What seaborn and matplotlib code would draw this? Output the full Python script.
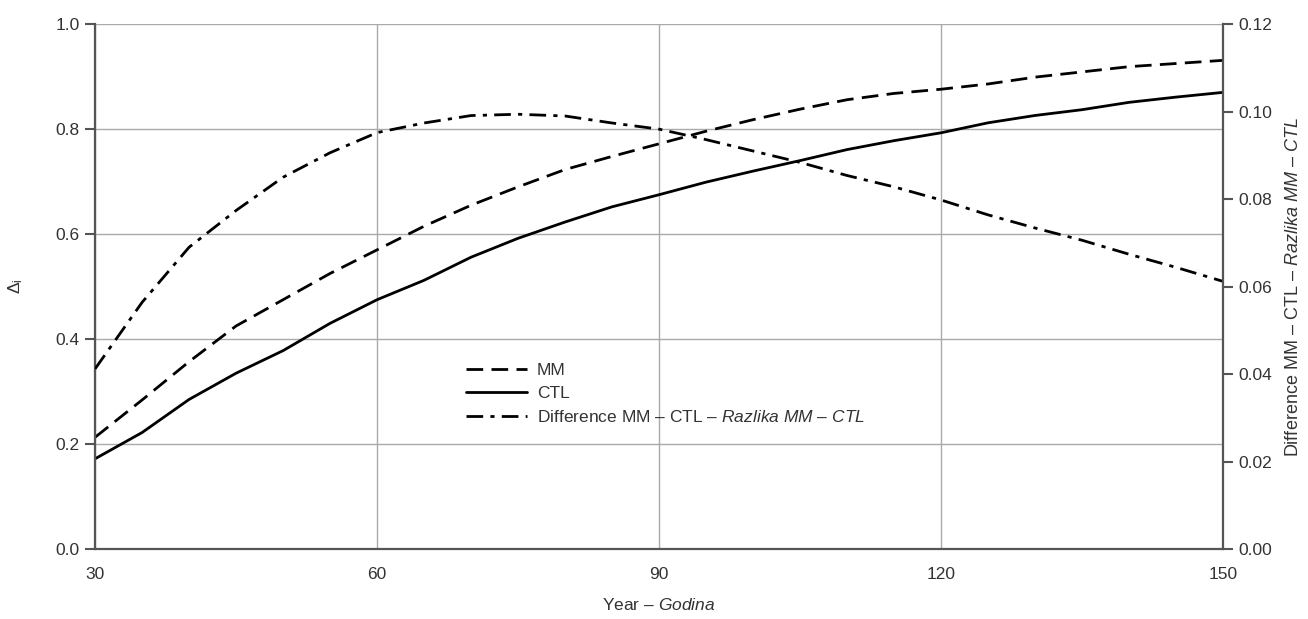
import numpy as np
import pandas as pd
import matplotlib
matplotlib.use('Agg')
import matplotlib.pyplot as plt
import seaborn as sns
from matplotlib.ticker import FormatStrFormatter

# data
years = [30, 35, 40, 45, 50, 55, 60, 65, 70, 75, 80, 85, 90,
         95, 100, 105, 110, 115, 120, 125, 130, 135, 140, 145, 150]
mm = [0.213, 0.284, 0.357, 0.425, 0.475, 0.525, 0.570, 0.615, 0.655, 0.690,
      0.723, 0.748, 0.772, 0.796, 0.818, 0.838, 0.856, 0.868, 0.876, 0.886,
      0.899, 0.909, 0.919, 0.925, 0.931]
ctl = [0.172, 0.222, 0.285, 0.335, 0.378, 0.430, 0.475, 0.512, 0.556, 0.592,
       0.623, 0.652, 0.675, 0.699, 0.720, 0.740, 0.761, 0.778, 0.793, 0.812,
       0.826, 0.837, 0.851, 0.861, 0.870]
diff = [0.0412, 0.0564, 0.0690, 0.0774, 0.0850, 0.0906, 0.0952, 0.0974,
        0.0991, 0.0994, 0.0990, 0.0974, 0.0960, 0.0936, 0.0910, 0.0884,
        0.0854, 0.0828, 0.0798, 0.0764, 0.0734, 0.0706, 0.0674, 0.0644, 0.0612]

df = pd.DataFrame({'year': years, 'MM': mm, 'CTL': ctl, 'diff': diff})

sns.set_style('white')
plt.rcParams['font.family'] = ['Liberation Sans', 'DejaVu Sans']
plt.rcParams['mathtext.fontset'] = 'custom'
plt.rcParams['mathtext.rm'] = 'Liberation Sans'
plt.rcParams['mathtext.it'] = 'Liberation Sans:italic'
plt.rcParams['font.size'] = 12.5

axis_col = '#555555'
text_col = '#333333'
lw = 2.0

fig = plt.figure(figsize=(13.08, 6.19), dpi=100)
ax = fig.add_axes([0.0727, 0.113, 0.8623, 0.848])
ax2 = ax.twinx()

# MM dashed, CTL solid on left axis; difference dash-dot on right axis
sns.lineplot(data=df, x='year', y='MM', ax=ax, color='black', lw=lw,
             label='MM', legend=False)
ax.lines[-1].set_dashes((6, 3))
sns.lineplot(data=df, x='year', y='CTL', ax=ax, color='black', lw=lw,
             label='CTL', legend=False)
sns.lineplot(data=df, x='year', y='diff', ax=ax2, color='black', lw=lw,
             label='Difference MM – CTL – $\\mathit{Razlika\\ MM\\ –\\ CTL}$',
             legend=False)
ax2.lines[-1].set_dashes((6, 2.6, 1.5, 2.6))

ax.set_xlim(30, 150)
ax.set_ylim(0, 1.0)
ax2.set_ylim(0, 0.12)
ax.set_xticks([30, 60, 90, 120, 150])
ax.set_yticks(np.arange(0, 1.01, 0.2))
ax2.set_yticks(np.arange(0, 0.121, 0.02))
ax.yaxis.set_major_formatter(FormatStrFormatter('%.1f'))
ax2.yaxis.set_major_formatter(FormatStrFormatter('%.2f'))

ax.grid(True, color='#aaaaaa', lw=1.0)
ax.set_axisbelow(True)

for a in (ax, ax2):
    a.spines['top'].set_visible(False)
    for s in ('left', 'right', 'bottom'):
        a.spines[s].set_color(axis_col)
        a.spines[s].set_linewidth(1.6)
ax.spines['right'].set_visible(False)
ax2.spines['left'].set_visible(False)
ax2.spines['bottom'].set_visible(False)

ax.tick_params(axis='x', direction='out', length=7, width=1.5,
               color=axis_col, labelcolor=text_col, pad=6)
ax.tick_params(axis='y', direction='out', length=7, width=1.5,
               color=axis_col, labelcolor=text_col, pad=4)
ax2.tick_params(axis='y', direction='out', length=7, width=1.5,
                color=axis_col, labelcolor=text_col, pad=4)

ax.set_xlabel('Year – $\\mathit{Godina}$', color=text_col, labelpad=11)
ax.set_ylabel('$\\mathit{Δ}_{\\mathrm{i}}$', color=text_col, labelpad=22)
ax2.set_ylabel('Difference MM – CTL – $\\mathit{Razlika\\ MM\\ –\\ CTL}$',
               color=text_col, labelpad=9, fontsize=13)

h1, lab1 = ax.get_legend_handles_labels()
h2, lab2 = ax2.get_legend_handles_labels()
leg = ax.legend(h1 + h2, lab1 + lab2, loc='center left',
                bbox_to_anchor=(0.321, 0.296), frameon=False, borderpad=0,
                handlelength=3.5, handletextpad=0.6, labelspacing=0.45)
for t in leg.get_texts():
    t.set_color(text_col)

fig.savefig('out.png', dpi=100)
